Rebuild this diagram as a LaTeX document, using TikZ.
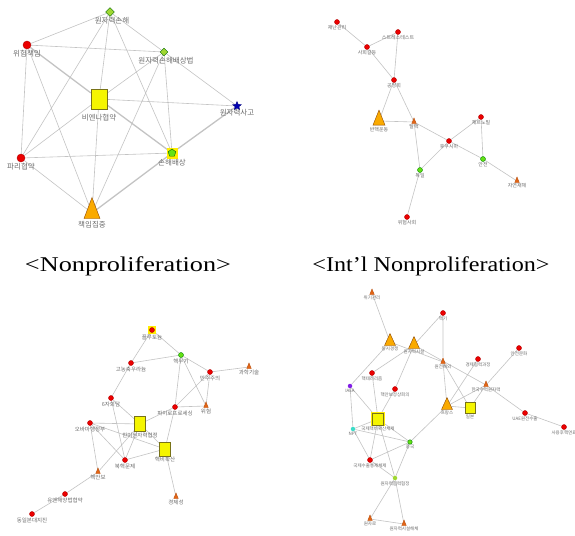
\documentclass[tikz,border=0pt]{standalone}
\usepackage{fontspec}
\setmainfont{Liberation Serif}
\newfontfamily\kr{Noto Sans CJK KR}
\usetikzlibrary{shapes.geometric,backgrounds}

\definecolor{nodered}{RGB}{235,0,0}
\definecolor{nodegreen}{RGB}{100,225,20}
\definecolor{lightgrn}{RGB}{160,215,50}
\definecolor{triorange}{RGB}{250,170,0}
\definecolor{smalltri}{RGB}{228,100,20}
\definecolor{sqyellow}{RGB}{245,245,0}
\definecolor{edgegray}{RGB}{195,195,195}
\definecolor{cyannode}{RGB}{60,220,200}
\definecolor{purplenode}{RGB}{130,30,230}

\tikzset{
  reddot/.style={circle, fill=nodered, draw=red!70!black, inner sep=0pt, minimum size=#1},
  reddot/.default=5,
  grndot/.style={circle, fill=nodegreen, draw=green!50!black, inner sep=0pt, minimum size=#1},
  grndot/.default=5,
  dia/.style={diamond, fill=lightgrn, draw=green!40!black, inner sep=0pt, minimum size=#1},
  penta/.style={regular polygon, regular polygon sides=5, fill=nodegreen, draw=green!40!black, inner sep=0pt, minimum size=#1},
  starnode/.style={star, star points=5, star point ratio=2.2, fill=blue!70!black, draw=blue!50!black, inner sep=0pt, minimum size=#1},
  tri/.style 2 args={isosceles triangle, isosceles triangle stretches, shape border rotate=90,
    fill=triorange, draw=orange!55!black, inner sep=0pt, minimum width=#1, minimum height=#2},
  smtri/.style={isosceles triangle, isosceles triangle stretches, shape border rotate=90,
    fill=smalltri, draw=smalltri!80!black, inner sep=0pt, minimum width=4.5, minimum height=5.5},
  sqbox/.style 2 args={rectangle, fill=sqyellow, draw=olive!80!black, inner sep=0pt, minimum width=#1, minimum height=#2},
  glow/.style={rectangle, fill=yellow!95!orange, inner sep=0pt, minimum size=#1},
  edge/.style={draw=edgegray, line width=0.6pt},
  thk/.style={line width=1.3pt},
  caption/.style={font=\fontsize{21}{23}\selectfont, inner sep=0pt},
  labsz/.style={every label/.style={font=\kr\fontsize{#1}{#1}\selectfont, text=gray!85!black, inner sep=0.8pt}}
}

\begin{document}
\begin{tikzpicture}[x=1pt, y=-1pt]
\useasboundingbox (0,0) rectangle (575,535);

% Nonproliferation
\begin{scope}[labsz=7.5]
\node[dia=9, label={[xshift=2pt]below:원자력손해}] (wjs) at (110,12) {};
\node[reddot=8, label=below:위험책임] (whcm) at (27,45) {};
\node[dia=8, label={[xshift=2pt]below:원자력손해배상법}] (wjsb) at (164,52) {};
\node[sqbox={16}{20}, label={[yshift=-4pt]below:비엔나협약}] (vienna) at (99,99) {};
\node[starnode=9, label=below:원자력사고] (wjsg) at (237,106) {};
\node[glow=11] (shbg) at (172,153) {};
\node[penta=8, label={[yshift=-2pt]below:손해배상}] (shbs) at (172,153) {};
\node[reddot=8, label=below:파리협약] (paris) at (21,158) {};
\node[tri={16}{21}, label={[yshift=-2pt]below:책임집중}] (cgjj) at (92,213) {};
\end{scope}
\begin{scope}[on background layer]
\draw[edge] (wjs) -- (whcm) (wjs) -- (wjsb) (wjs) -- (vienna) (wjs) -- (paris) (wjs) -- (shbs)
  (whcm) -- (wjsb) (whcm) -- (paris) (whcm) -- (cgjj) (wjsb) -- (vienna) (wjsb) -- (shbs)
  (wjsb) -- (cgjj) (wjsb) -- (wjsg) (vienna) -- (wjsg) (vienna) -- (paris) (vienna) -- (cgjj)
  (shbs) -- (paris) (paris) -- (cgjj);
\draw[edge, thk] (whcm) -- (vienna) (vienna) -- (shbs) (wjsg) -- (shbs) (shbs) -- (cgjj);
\end{scope}

% Int'l Nonproliferation
\begin{scope}[labsz=5]
\node[reddot, label=below:재난관리] (jnkr) at (337,22) {};
\node[reddot, label=below:스트레스테스트] (strs) at (398,32) {};
\node[reddot, label=below:사회갈등] (shgd) at (367,47) {};
\node[reddot, label=below:공청회] (gch) at (394,80) {};
\node[tri={12}{15}, label={[yshift=-1pt]below:반핵운동}] (bhud) at (379,121) {};
\node[smtri, label=below:탈핵] (tal) at (414,122) {};
\node[reddot, label=below:후쿠시마] (fksm) at (449,141) {};
\node[reddot, label=below:체르노빌] (chnb) at (481,117) {};
\node[grndot, label=below:안전] (anjn) at (483,159) {};
\node[smtri, label=below:자연재해] (jyjh) at (517,181) {};
\node[grndot, label=below:독일] (dog) at (420,170) {};
\node[reddot, label=below:위험사회] (whsh) at (407,217) {};
\end{scope}
\begin{scope}[on background layer]
\draw[edge] (jnkr) -- (shgd) (shgd) -- (strs) (shgd) -- (gch) (strs) -- (gch) (gch) -- (bhud)
  (gch) -- (tal) (bhud) -- (tal) (tal) -- (fksm) (tal) -- (dog) (fksm) -- (chnb) (fksm) -- (dog)
  (fksm) -- (anjn) (chnb) -- (anjn) (anjn) -- (jyjh) (dog) -- (whsh);
\end{scope}

% lower left
\begin{scope}[labsz=5.5]
\node[glow=8] (plubg) at (152,330) {};
\node[reddot, label={[yshift=-1pt]below:플루토늄}] (plu) at (152,330) {};
\node[grndot, label=below:핵무기] (nw) at (181,355) {};
\node[reddot, label=below:고농축우라늄] (heu) at (131,363) {};
\node[reddot, label=below:민주주의] (demo) at (210,372) {};
\node[smtri, label=below:과학기술] (scitech) at (249,367) {};
\node[reddot, label=below:6자회담] (sixp) at (111,398) {};
\node[reddot, label=below:파이로프로세싱] (pyro) at (175,407) {};
\node[smtri, label=below:위험] (risk) at (206,406) {};
\node[reddot, label=below:오바마행정부] (obama) at (90,423) {};
\node[sqbox={11}{15}, label=below:한미원자력협정] (kusa) at (140,424) {};
\node[sqbox={11}{14}, label=below:핵비확산] (npr) at (165,449) {};
\node[reddot, label=below:북핵문제] (nkp) at (125,460) {};
\node[smtri, label=below:핵안보] (nsec) at (98,472) {};
\node[reddot, label=below:유엔해양법협약] (unclos) at (65,494) {};
\node[reddot, label=below:동일본대지진] (eqk) at (32,514) {};
\node[smtri, label=below:경제성] (econ) at (176,497) {};
\end{scope}
\begin{scope}[on background layer]
\draw[edge] (plu) -- (heu) (plu) -- (nw) (heu) -- (nw) (nw) -- (demo) (nw) -- (pyro) (nw) -- (risk)
  (demo) -- (scitech) (demo) -- (risk) (demo) -- (pyro) (pyro) -- (risk) (heu) -- (sixp)
  (sixp) -- (kusa) (sixp) -- (nkp) (pyro) -- (kusa) (pyro) -- (npr) (obama) -- (kusa)
  (obama) -- (npr) (obama) -- (nkp) (obama) -- (nsec) (kusa) -- (nkp) (kusa) -- (nsec)
  (kusa) -- (npr) (nkp) -- (npr) (nsec) -- (unclos) (unclos) -- (eqk) (npr) -- (econ);
\end{scope}

% lower right
\begin{scope}[labsz=4.5]
\node[smtri, label=below:위기관리] (crisis) at (372,293) {};
\node[reddot, label=below:핵기] (hk) at (443,313) {};
\node[tri={11}{12}, label=below:동시경쟁] (dsgj) at (390,342) {};
\node[tri={11}{12}, label=below:원자력시설] (facil) at (414,345) {};
\node[smtri, label=below:원전해외] (abroad) at (443,362) {};
\node[reddot, label=below:경제협력과정] (ecoop) at (478,359) {};
\node[reddot, label=below:안전문화] (safecul) at (519,348) {};
\node[reddot, label=below:핵테러리즘] (terr) at (372,373) {};
\node[reddot, label=below:핵안보정상회의] (nss) at (395,389) {};
\node[circle, fill=purplenode, inner sep=0pt, minimum size=4.5, label=below:IAEA] (iaea) at (350,386) {};
\node[smtri, label=below:한국수력원자력] (khnp) at (486,385) {};
\node[tri={11}{12}, label=below:프랑스] (france) at (447,406) {};
\node[sqbox={10}{11}, label=below:일본] (japan) at (470,408) {};
\node[glow=14] (regbg) at (378,419) {};
\node[sqbox={11}{12}, label={[yshift=-1pt]below:국제핵비확산체제}] (regime) at (378,419) {};
\node[circle, fill=cyannode, inner sep=0pt, minimum size=4.5, label=below:NPT] (npt) at (353,429) {};
\node[reddot, label=below:UAE원전수출] (uae) at (525,413) {};
\node[reddot, label=below:사용후핵연료] (spent) at (564,427) {};
\node[grndot=4.5, label=below:중국] (china) at (410,442) {};
\node[reddot, label=below:국제수출통제체제] (export) at (370,460) {};
\node[circle, fill=lightgrn, inner sep=0pt, minimum size=4.5, label=below:원자력협력협정] (coop) at (395,478) {};
\node[smtri, label=below:원자로] (reactor) at (370,519) {};
\node[smtri, label=below:원자력시설해체] (decom) at (404,524) {};
\end{scope}
\begin{scope}[on background layer]
\draw[edge] (crisis) -- (dsgj) (hk) -- (facil) (hk) -- (abroad) (dsgj) -- (abroad) (facil) -- (khnp)
  (dsgj) -- (iaea) (facil) -- (terr) (facil) -- (nss) (terr) -- (regime) (nss) -- (regime)
  (iaea) -- (regime) (iaea) -- (npt) (abroad) -- (france) (abroad) -- (japan) (ecoop) -- (france)
  (safecul) -- (khnp) (khnp) -- (france) (khnp) -- (uae) (khnp) -- (japan) (uae) -- (spent)
  (france) -- (japan) (france) -- (china) (regime) -- (npt) (regime) -- (china) (npt) -- (china)
  (npt) -- (export) (regime) -- (export) (regime) -- (coop) (china) -- (export) (china) -- (coop)
  (export) -- (coop) (coop) -- (reactor) (coop) -- (decom) (reactor) -- (decom);
\end{scope}

\node[caption] (cap1) at (128,266) {\scalebox{1.25}[1]{<Nonproliferation>}};
\node[caption] (cap2) at (431,266) {\scalebox{1.15}[1]{<Int'l Nonproliferation>}};
\end{tikzpicture}
\end{document}
